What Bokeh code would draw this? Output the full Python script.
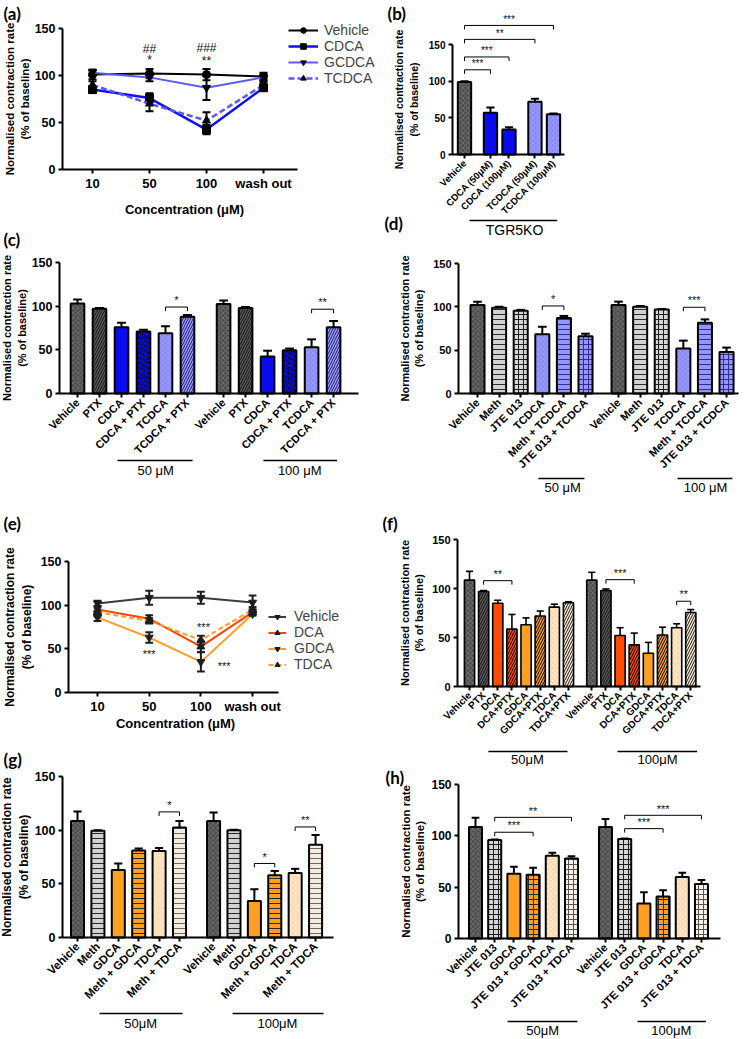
import math
from bokeh.plotting import figure
from bokeh.models import Range1d, FixedTicker, Label, Legend, LegendItem, ColumnDataSource, Arrow
from bokeh.layouts import row, column
from bokeh.embed import file_html
from bokeh.resources import INLINE

FONT = "Liberation Sans"
PFONT = "Lato"
MU = "\u03bc"
YTITLE = "Normalised contraction rate\n(% of baseline)"
XTITLE = "Concentration (" + MU + "M)"

# ---------------- data ----------------
conc_ticks = ["10", "50", "100", "wash out"]

# (a)
a_vehicle = [101, 102, 101, 99]
a_vehicle_err = [5, 5, 6, 4]
a_cdca = [85, 76, 42.5, 87]
a_cdca_err = [3, 5, 5, 2]
a_gcdca = [103, 98, 87, 98]
a_gcdca_err = [3, 4, 13, 3]
a_tcdca = [90, 70, 52, 90]
a_tcdca_err = [4, 8, 9, 3]
a_marks = [(1, 128, "##"), (1, 116, "*"), (2, 129, "###"), (2, 115, "**")]

# (b)
b_labels = ["Vehicle", "CDCA (50" + MU + "M)", "CDCA (100" + MU + "M)", "TCDCA (50" + MU + "M)", "TCDCA (100" + MU + "M)"]
b_styles = ["Vehicle", "CDCA", "CDCA", "TCDCA", "TCDCA"]
b_values = [99, 57, 34, 72, 55]
b_err = [1, 7, 3, 4, 1]
b_brackets = [(0, 4, 176, "***"), (0, 3, 157, "**"), (0, 2, 133, "***"), (0, 1, 115.5, "***")]

# (c)
c_labels = ["Vehicle", "PTX", "CDCA", "CDCA + PTX", "TCDCA", "TCDCA + PTX"]
c_50 = [103, 97, 76, 71, 69, 88]
c_50_err = [4.5, 1, 5, 2, 8, 2]
c_100 = [102.5, 98, 42.5, 49.5, 53, 76]
c_100_err = [4, 1, 6.5, 2, 9, 7]
c_brackets_50 = [(4, 5, 99, "*")]
c_brackets_100 = [(4, 5, 96.5, "**")]

# (d)
d_labels = ["Vehicle", "Meth", "JTE 013", "TCDCA", "Meth + TCDCA", "JTE 013 + TCDCA"]
d_50 = [102, 99, 95.5, 68.5, 87, 66]
d_50_err = [4, 1, 1, 8.5, 2.5, 3]
d_100 = [102, 100, 97, 52, 81.5, 48]
d_100_err = [4, 1, 0.5, 9, 4, 5]
d_brackets_50 = [(3, 4, 101, "*")]
d_brackets_100 = [(3, 4, 99.5, "***")]

# (e)
e_vehicle = [102, 108.5, 108.5, 103]
e_vehicle_err = [3, 8, 7, 8]
e_dca = [95, 84.5, 52.5, 92]
e_dca_err = [4, 4, 6, 3]
e_gdca = [86, 63, 35, 90]
e_gdca_err = [4, 6, 11, 2]
e_tdca = [92, 82, 60, 95]
e_tdca_err = [5, 3, 5, 3]
e_marks = [(1, 44, "***"), (2.05, 75, "***"), (2.45, 30, "***")]

# (f)
f_labels = ["Vehicle", "PTX", "DCA", "DCA+PTX", "GDCA", "GDCA+PTX", "TDCA", "TDCA+PTX"]
f_50 = [108.5, 97, 85, 58.5, 63, 72, 81, 85.5]
f_50_err = [9, 1, 3, 15, 7, 5, 3, 1]
f_100 = [108.5, 98, 52, 42.5, 34, 52.5, 60, 75.5]
f_100_err = [8, 1.5, 8, 12, 11, 8, 4, 3]
f_brackets_50 = [(1, 3, 108, "**")]
f_brackets_100 = [(1, 3, 109, "***"), (6, 7, 87, "**")]

# (g)
g_labels = ["Vehicle", "Meth", "GDCA", "Meth + GDCA", "TDCA", "Meth + TDCA"]
g_50 = [108.5, 99.5, 63, 81, 80.5, 102.5]
g_50_err = [9, 0.5, 6, 2, 3, 6]
g_100 = [108.5, 100, 34, 58, 60, 86.5]
g_100_err = [8, 0.5, 11, 4, 4, 9]
g_brackets_50 = [(4, 5, 117, "*")]
g_brackets_100 = [(2, 3, 69, "*"), (4, 5, 103, "**")]

# (h)
h_labels = ["Vehicle", "JTE 013", "GDCA", "JTE 013 + GDCA", "TDCA", "JTE 013 + TDCA"]
h_50 = [108.5, 96, 63, 62, 80.5, 78]
h_50_err = [9, 0.5, 7, 7, 3, 2]
h_100 = [108.5, 97, 34, 41, 60, 53]
h_100_err = [8, 0.5, 11, 6, 4, 4]
h_brackets_50 = [(1, 5, 118, "**"), (1, 3, 103.5, "***")]
h_brackets_100 = [(1, 5, 120, "***"), (1, 3, 107, "***")]

# ---------------- styles ----------------
STY = {
    "Vehicle": ("#505050", "x", "#6c6c6c"),
    "PTX": ("#585858", "/", "#141414"),
    "Meth": ("#d2d2d2", "-", "#2a2a2a"),
    "JTE 013": ("#d6d6d6", "+", "#1e1e1e"),
    "CDCA": ("#0b0bf2", " ", "#0b0bf2"),
    "CDCA + PTX": ("#0b0bf2", "/", "#000000"),
    "TCDCA": ("#8c8cf8", "x", "#9c9cfc"),
    "TCDCA + PTX": ("#9c9cfb", "/", "#1c1c70"),
    "Meth + TCDCA": ("#9595fa", "-", "#2e2e90"),
    "JTE 013 + TCDCA": ("#9595fa", "+", "#2e2e90"),
    "DCA": ("#ff4b00", " ", "#ff4b00"),
    "DCA+PTX": ("#ff4b00", "/", "#000000"),
    "GDCA": ("#ffa024", " ", "#ffa024"),
    "GDCA+PTX": ("#ffa024", "/", "#000000"),
    "TDCA": ("#fde7c8", "x", "#fbd7a8"),
    "TDCA+PTX": ("#fdecd3", "/", "#1a1a1a"),
    "Meth + GDCA": ("#ffa024", "-", "#2a2a2a"),
    "Meth + TDCA": ("#f4ecdc", "-", "#6a6a6a"),
    "JTE 013 + GDCA": ("#ffa024", "+", "#2a2a2a"),
    "JTE 013 + TDCA": ("#f6f0e4", "+", "#555555"),
}


def base_fig(W, H, L, Rx, x0px, xstep, y0px, pxu, ytfs, ylfs, ystand):
    """Frame covers the whole figure; axes are pinned at fixed data locations."""
    p = figure(width=W, height=H,
               x_range=Range1d((0 - x0px) / xstep, (W - x0px) / xstep),
               y_range=Range1d((y0px - H) / pxu, y0px / pxu),
               min_border_left=0, min_border_right=0, min_border_top=0, min_border_bottom=0,
               output_backend="svg", toolbar_location=None)
    p.outline_line_color = None
    p.xgrid.visible = False
    p.ygrid.visible = False

    def X(lx):
        return (lx - x0px) / xstep

    def Y(ly):
        return (y0px - ly) / pxu

    for ax in [p.xaxis[0], p.yaxis[0]]:
        ax.axis_line_width = 2
        ax.axis_line_color = "black"
        ax.major_tick_line_width = 2
        ax.major_tick_line_color = "black"
        ax.major_tick_out = 4
        ax.major_tick_in = 0
        ax.minor_tick_line_color = None
        ax.major_label_text_font = FONT
        ax.major_label_text_font_style = "bold"
        ax.major_label_text_color = "black"
        ax.axis_label_text_font = FONT
        ax.axis_label_text_font_style = "bold"
        ax.axis_label_text_color = "black"
    xax = p.xaxis[0]
    xax.fixed_location = 0
    xax.bounds = (X(L), X(Rx))
    yax = p.yaxis[0]
    yax.fixed_location = X(L)
    yax.ticker = FixedTicker(ticks=[0, 50, 100, 150])
    yax.bounds = (0, 150)
    yax.major_label_text_font_size = ytfs
    yax.major_label_standoff = 3
    yax.axis_label = YTITLE
    yax.axis_label_text_font_size = ylfs
    yax.axis_label_standoff = ystand
    return p, X, Y, pxu


def panel_label(p, X, Y, lx, ly, text):
    p.add_layout(Label(x=X(lx), y=Y(ly), text=text, text_align="left", text_baseline="top",
                       text_font=PFONT, text_font_style="bold", text_font_size="17px", text_color="black"))


def add_bars(p, xs, vals, errs, keys, width, lw, capw, hscale):
    src = ColumnDataSource(dict(x=xs, top=vals,
                                fill=[STY[k][0] for k in keys],
                                hp=[STY[k][1] for k in keys],
                                hc=[STY[k][2] for k in keys]))
    p.vbar(x="x", top="top", bottom=0, width=width, source=src, fill_color="fill",
           line_color="black", line_width=lw, hatch_pattern="hp", hatch_color="hc",
           hatch_scale=hscale, hatch_weight=1)
    up = [v + e for v, e in zip(vals, errs)]
    p.segment(x0=xs, y0=vals, x1=xs, y1=up, line_color="black", line_width=lw)
    p.segment(x0=[x - capw for x in xs], y0=up, x1=[x + capw for x in xs], y1=up,
              line_color="black", line_width=lw)


def add_bracket(p, xa, xb, y, drop, text, fs="11px"):
    p.segment(x0=[xa, xa, xb], y0=[y - drop, y, y], x1=[xa, xb, xb], y1=[y, y, y - drop],
              line_color="black", line_width=1)
    p.add_layout(Label(x=(xa + xb) / 2, y=y + drop * 0.2, text=text, text_align="center",
                       text_baseline="bottom", text_font=FONT, text_font_size=fs, text_color="#111111"))


def group_line(p, xa, xb, yline, xc, ytext, text, fs="13px"):
    p.add_layout(Arrow(start=None, end=None, x_start=xa, y_start=yline, x_end=xb, y_end=yline,
                       line_color="black", line_width=1.5))
    p.add_layout(Label(x=xc, y=ytext, text=text, text_align="center", text_baseline="middle",
                       text_font=FONT, text_font_size=fs, text_color="black"))


def set_xcats(p, xs, labels, fs):
    ax = p.xaxis[0]
    ax.ticker = FixedTicker(ticks=xs)
    ax.major_label_overrides = {x: l for x, l in zip(xs, labels)}
    ax.major_label_orientation = math.pi / 4
    ax.major_label_text_font_size = fs
    ax.major_label_standoff = 3


def set_conc_axis(p, X, Y, cx, cy):
    ax = p.xaxis[0]
    ax.ticker = FixedTicker(ticks=xs4)
    ax.major_label_overrides = {x: l for x, l in zip(xs4, conc_ticks)}
    ax.major_label_text_font_size = "13px"
    ax.major_label_standoff = 2
    p.add_layout(Label(x=X(cx), y=Y(cy), text=XTITLE, text_align="center", text_baseline="middle",
                       text_font=FONT, text_font_style="bold", text_font_size="13px", text_color="black"))


def line_series(p, xs, ys, errs, color, dash, marker, msize, lw, capw, ecolor):
    rl = p.line(xs, ys, line_color=color, line_width=lw, line_dash=dash)
    lo = [y - e for y, e in zip(ys, errs)]
    hi = [y + e for y, e in zip(ys, errs)]
    p.segment(x0=xs, y0=lo, x1=xs, y1=hi, line_color=ecolor, line_width=2)
    p.segment(x0=[x - capw for x in xs], y0=hi, x1=[x + capw for x in xs], y1=hi, line_color=ecolor, line_width=2)
    p.segment(x0=[x - capw for x in xs], y0=lo, x1=[x + capw for x in xs], y1=lo, line_color=ecolor, line_width=2)
    rm = p.scatter(xs, ys, marker=marker, size=msize, fill_color=ecolor, line_color=ecolor)
    return rl, rm


W = 375
xs4 = [0, 1, 2, 3]

# ================= (a) =================
pa, Xa, Ya, pxa = base_fig(W, 220, 62, 297, 92, 57, 169, 141 / 150, "12.5px", "11.5px", 1)
set_conc_axis(pa, Xa, Ya, 184, 209)
cap = 0.07
ra = [
    line_series(pa, xs4, a_vehicle, a_vehicle_err, "black", "solid", "circle", 8, 2, cap, "black"),
    line_series(pa, xs4, a_cdca, a_cdca_err, "#1010f5", "solid", "square", 8, 2.5, cap, "black"),
    line_series(pa, xs4, a_gcdca, a_gcdca_err, "#5a5af7", "solid", "inverted_triangle", 8, 2, cap, "black"),
    line_series(pa, xs4, a_tcdca, a_tcdca_err, "#5a5af7", "6 3", "triangle", 8, 2.5, cap, "black"),
]
leg_a = Legend(items=[LegendItem(label=n, renderers=list(r)) for n, r in
                      zip(["Vehicle", "CDCA", "GCDCA", "TCDCA"], ra)],
               location=(288, 134), label_text_font=FONT, label_text_font_size="14px",
               glyph_width=30, glyph_height=14, label_height=14, spacing=0, padding=0, margin=0,
               border_line_color=None, background_fill_alpha=0, label_standoff=6)
pa.add_layout(leg_a)
for x, y, t in a_marks:
    pa.add_layout(Label(x=x, y=y, text=t, text_align="center", text_baseline="middle",
                        text_font=FONT, text_font_size="12px", text_color="#111111"))
panel_label(pa, Xa, Ya, 3, 2, "(a)")

# ================= (b) =================
pb, Xb, Yb, pxb = base_fig(W, 236, 77, 189, 89, 18.54, 154, 110 / 150, "10px", "10.5px", 6)
b_pos = [0, 1.4, 2.4, 3.8, 4.8]
set_xcats(pb, b_pos, b_labels, "9.5px")
add_bars(pb, b_pos, b_values, b_err, b_styles, 0.72, 2, 0.22, 5)
for i, j, y, t in b_brackets:
    add_bracket(pb, b_pos[i], b_pos[j], y, 4 / pxb, t, "10px")
group_line(pb, 0.27, 5.0, Yb(220), 2.7, Yb(229), "TGR5KO", "14px")
panel_label(pb, Xb, Yb, 12, 2, "(b)")
panel_label(pb, Xb, Yb, 9, 212, "(d)")

# ================= (c) =================
pc, Xc, Yc, pxc = base_fig(W, 260, 59, 358, 77, 22, 173, 131 / 150, "12.5px", "11px", 1)
c_off = 6.64
c_pos1 = [i for i in range(6)]
c_pos2 = [c_off + i for i in range(6)]
set_xcats(pc, c_pos1 + c_pos2, c_labels + c_labels, "11px")
add_bars(pc, c_pos1, c_50, c_50_err, c_labels, 0.62, 2, 0.2, 5)
add_bars(pc, c_pos2, c_100, c_100_err, c_labels, 0.62, 2, 0.2, 5)
for i, j, y, t in c_brackets_50:
    add_bracket(pc, c_pos1[i], c_pos1[j], y, 4 / pxc, t)
for i, j, y, t in c_brackets_100:
    add_bracket(pc, c_pos2[i], c_pos2[j], y, 4 / pxc, t)
group_line(pc, 1.82, 5.23, Yc(240), 3.55, Yc(250), "50 " + MU + "M")
group_line(pc, 8.45, 11.8, Yc(240), 10.1, Yc(250), "100 " + MU + "M")
panel_label(pc, Xc, Yc, 3, 8, "(c)")

# ================= (d) =================
pd_, Xd, Yd, pxd = base_fig(W, 264, 83, 363, 102, 21.6, 157, 130 / 150, "11px", "11px", 5)
d_off = 6.53
d_pos1 = [i for i in range(6)]
d_pos2 = [d_off + i for i in range(6)]
set_xcats(pd_, d_pos1 + d_pos2, d_labels + d_labels, "11px")
add_bars(pd_, d_pos1, d_50, d_50_err, d_labels, 0.65, 2, 0.2, 5)
add_bars(pd_, d_pos2, d_100, d_100_err, d_labels, 0.65, 2, 0.2, 5)
for i, j, y, t in d_brackets_50:
    add_bracket(pd_, d_pos1[i], d_pos1[j], y, 4 / pxd, t)
for i, j, y, t in d_brackets_100:
    add_bracket(pd_, d_pos2[i], d_pos2[j], y, 4 / pxd, t)
group_line(pd_, 2.82, 4.95, Yd(242), 3.94, Yd(251), "50 " + MU + "M")
group_line(pd_, 9.26, 11.8, Yd(242), 10.56, Yd(251), "100 " + MU + "M")

# ================= (e) =================
pe, Xe, Ye, pxe = base_fig(W, 255, 68, 278, 97, 51.7, 212, 131 / 150, "12.5px", "12px", 4)
set_conc_axis(pe, Xe, Ye, 175, 243)
cap = 0.075
re_ = [
    line_series(pe, xs4, e_vehicle, e_vehicle_err, "#3c3c3c", "solid", "inverted_triangle", 8, 2, cap, "#1e1e1e"),
    line_series(pe, xs4, e_dca, e_dca_err, "#ff4500", "solid", "triangle", 8, 2, cap, "#1e1e1e"),
    line_series(pe, xs4, e_gdca, e_gdca_err, "#ff9d2a", "solid", "inverted_triangle", 8, 2, cap, "#1e1e1e"),
    line_series(pe, xs4, e_tdca, e_tdca_err, "#ff9d2a", "5 3", "triangle", 8, 2, cap, "#1e1e1e"),
]
leg_e = Legend(items=[LegendItem(label=n, renderers=list(r)) for n, r in
                      zip(["Vehicle", "DCA", "GDCA", "TDCA"], re_)],
               location=(268, 63), label_text_font=FONT, label_text_font_size="14px",
               glyph_width=18, glyph_height=13, label_height=13, spacing=0, padding=0, margin=0,
               border_line_color=None, background_fill_alpha=0, label_standoff=8)
pe.add_layout(leg_e)
for x, y, t in e_marks:
    pe.add_layout(Label(x=x, y=y, text=t, text_align="center", text_baseline="middle",
                        text_font=FONT, text_font_size="11px", text_color="#111111"))
panel_label(pe, Xe, Ye, 3, 32, "(e)")

# ================= (f) =================
pf, Xf, Yf, pxf = base_fig(W, 266, 82, 325, 94, 14.14, 186, 147 / 150, "11px", "11px", 4)
f_off = 8.65
f_pos1 = [i for i in range(8)]
f_pos2 = [f_off + i for i in range(8)]
set_xcats(pf, f_pos1 + f_pos2, f_labels + f_labels, "10px")
add_bars(pf, f_pos1, f_50, f_50_err, f_labels, 0.72, 1.6, 0.25, 5)
add_bars(pf, f_pos2, f_100, f_100_err, f_labels, 0.72, 1.6, 0.25, 5)
for i, j, y, t in f_brackets_50:
    add_bracket(pf, f_pos1[i], f_pos1[j], y, 4 / pxf, t)
for i, j, y, t in f_brackets_100:
    add_bracket(pf, f_pos2[i], f_pos2[j], y, 4 / pxf, t)
group_line(pf, 1.34, 6.93, Yf(251), 4.1, Yf(259), "50" + MU + "M")
group_line(pf, 10.47, 16.1, Yf(251), 13.3, Yf(259), "100" + MU + "M")
panel_label(pf, Xf, Yf, 7, 12, "(f)")

# ================= (g) =================
pg, Xg, Yg, pxg = base_fig(W, 304, 62, 333, 77, 20.4, 202, 161 / 150, "12.5px", "12px", 1)
g_off = 6.67
g_pos1 = [i for i in range(6)]
g_pos2 = [g_off + i for i in range(6)]
set_xcats(pg, g_pos1 + g_pos2, g_labels + g_labels, "11.5px")
add_bars(pg, g_pos1, g_50, g_50_err, g_labels, 0.64, 2, 0.2, 5)
add_bars(pg, g_pos2, g_100, g_100_err, g_labels, 0.64, 2, 0.2, 5)
for i, j, y, t in g_brackets_50:
    add_bracket(pg, g_pos1[i], g_pos1[j], y, 4 / pxg, t)
for i, j, y, t in g_brackets_100:
    add_bracket(pg, g_pos2[i], g_pos2[j], y, 4 / pxg, t)
group_line(pg, 1.08, 5.15, Yg(278), 3.1, Yg(288), "50" + MU + "M")
group_line(pg, 7.6, 12.06, Yg(278), 9.8, Yg(288), "100" + MU + "M")
panel_label(pg, Xg, Yg, 3, 13, "(g)")

# ================= (h) =================
ph, Xh, Yh, pxh = base_fig(W, 273, 83, 345, 100, 19.2, 172, 154 / 150, "12px", "11.5px", 2)
h_off = 6.77
h_pos1 = [i for i in range(6)]
h_pos2 = [h_off + i for i in range(6)]
set_xcats(ph, h_pos1 + h_pos2, h_labels + h_labels, "11px")
add_bars(ph, h_pos1, h_50, h_50_err, h_labels, 0.68, 2, 0.2, 5)
add_bars(ph, h_pos2, h_100, h_100_err, h_labels, 0.68, 2, 0.2, 5)
for i, j, y, t in h_brackets_50:
    add_bracket(ph, h_pos1[i], h_pos1[j], y, 4 / pxh, t)
for i, j, y, t in h_brackets_100:
    add_bracket(ph, h_pos2[i], h_pos2[j], y, 4 / pxh, t)
group_line(ph, 1.67, 5.31, Yh(255), 3.5, Yh(264), "50" + MU + "M")
group_line(ph, 8.44, 12.0, Yh(255), 10.2, Yh(264), "100" + MU + "M")
panel_label(ph, Xh, Yh, 10, 0, "(h)")

layout = row(column(pa, pc, pe, pg), column(pb, pd_, pf, ph))
open("out.html", "w").write(file_html(layout, INLINE))
